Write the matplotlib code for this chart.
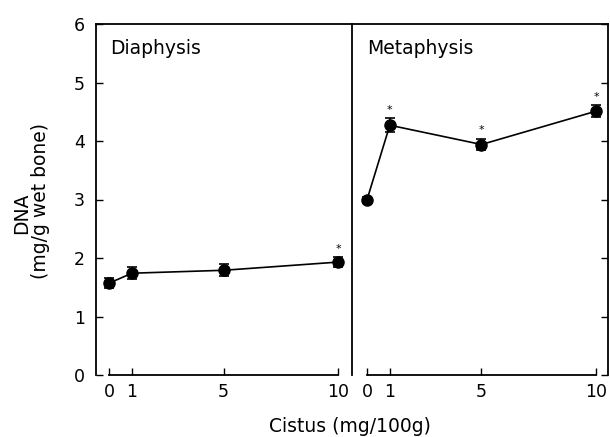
import matplotlib
matplotlib.use("Agg")
import matplotlib.pyplot as plt

dose = [0, 1, 5, 10]
diaphysis = [1.57, 1.74, 1.79, 1.93]
diaphysis_err = [0.08, 0.10, 0.10, 0.08]
diaphysis_sig = [False, False, False, True]
metaphysis = [2.99, 4.27, 3.94, 4.51]
metaphysis_err = [0.05, 0.12, 0.10, 0.10]
metaphysis_sig = [False, True, True, True]
yticks = [0, 1, 2, 3, 4, 5, 6]
xticks = [0, 1, 5, 10]

plt.rcParams['font.family'] = ['DejaVu Sans']
fig = plt.figure(figsize=(6.10, 4.37), dpi=100)
W, H = 610, 437
ax1 = fig.add_axes([96 / W, 1 - 375 / H, 256 / W, 351 / H])
ax2 = fig.add_axes([352 / W, 1 - 375 / H, 256 / W, 351 / H])
ax2.patch.set_visible(False)

def draw(ax, y, err, sig, title, xlim, tx):
    ax.errorbar(dose, y, yerr=err, fmt='o-', color='black', ms=8, lw=1.2,
                elinewidth=1.2, capsize=3.5, capthick=1.2)
    for xi, yi, ei, s in zip(dose, y, err, sig):
        if s:
            ax.text(xi, yi + ei + 0.06, '*', ha='center', va='bottom', fontsize=8)
    ax.set_xlim(*xlim)
    ax.set_ylim(0, 6)
    ax.set_xticks(xticks)
    ax.set_yticks(yticks)
    ax.spines['bottom'].set_bounds(0, 10)
    ax.tick_params(direction='in', length=5, width=1, labelsize=12.5)
    ax.tick_params(axis='x', pad=6)
    ax.tick_params(axis='y', pad=8)
    for s in ax.spines.values():
        s.set_linewidth(1.3)
    ax.text(tx, 0.93, title, transform=ax.transAxes, fontsize=13.5,
            ha='left', va='center')

draw(ax1, diaphysis, diaphysis_err, diaphysis_sig, 'Diaphysis', (-0.57, 10.61), 0.055)
draw(ax2, metaphysis, metaphysis_err, metaphysis_sig, 'Metaphysis', (-0.65, 10.52), 0.06)

ax1.spines['right'].set_visible(True)
ax2.spines['left'].set_visible(False)
ax2.yaxis.tick_right()
ax2.tick_params(axis='y', labelright=False, labelleft=False)

fig.text(22 / W, 1 - 213 / H, 'DNA', rotation=90, ha='center', va='center', fontsize=13.5)
fig.text(41 / W, 1 - 201 / H, '(mg/g wet bone)', rotation=90, ha='center', va='center', fontsize=13.5)
fig.text(350 / W, 1 - 426 / H, 'Cistus (mg/100g)', ha='center', va='center', fontsize=13.5)

fig.savefig('out.png', dpi=100)
